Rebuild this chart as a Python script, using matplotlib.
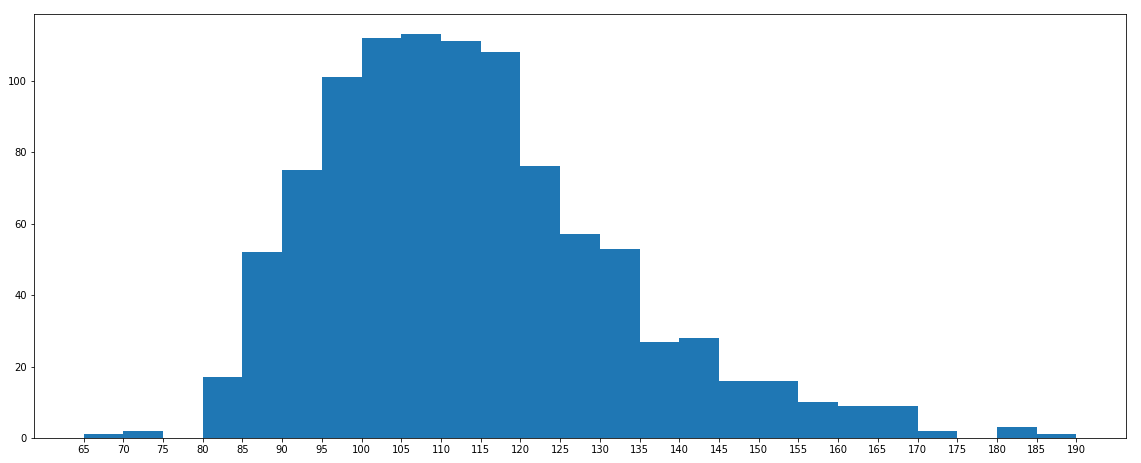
import matplotlib
matplotlib.use("Agg")
import matplotlib.pyplot as plt
import numpy as np

# bin edges (width 5) and counts
bin_edges = np.arange(65, 195, 5)
counts = [1, 2, 0, 17, 52, 75, 101, 112, 113, 111, 108, 76, 57, 53,
          27, 28, 16, 16, 10, 9, 9, 2, 0, 3, 1]
x_ticks = np.arange(65, 195, 5)

DPI = 72
fig = plt.figure(figsize=(1141 / DPI, 463 / DPI), dpi=DPI)
ax = fig.add_axes([34 / 1141, 25 / 463, (1126 - 34) / 1141, (438 - 14) / 463])

ax.hist(bin_edges[:-1], bins=bin_edges, weights=counts, color="#1f77b4")
ax.set_xticks(x_ticks)
ax.tick_params(labelsize=10)

fig.savefig("out.png", dpi=DPI)
